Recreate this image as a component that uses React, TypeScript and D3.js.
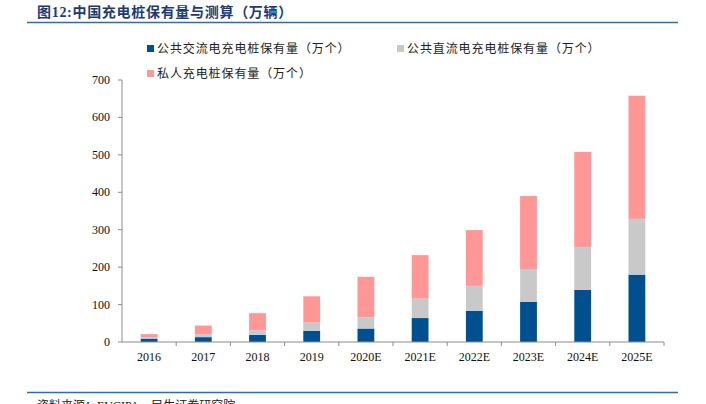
import React from 'react';
import * as d3 from 'd3';

const years = ['2016', '2017', '2018', '2019', '2020E', '2021E', '2022E', '2023E', '2024E', '2025E'];
const publicAC = [9, 13, 19, 30, 36, 64, 83, 107, 139, 180];
const publicDC = [4, 7, 12, 22, 30, 52, 67, 88, 115, 149];
const privatePiles = [8, 24, 46, 70, 108, 116, 149, 195, 254, 329];
const yTicks = [0, 100, 200, 300, 400, 500, 600, 700];

const seriesNames = ['公共交流电充电桩保有量（万个）', '公共直流电充电桩保有量（万个）', '私人充电桩保有量（万个）'];
const colors = ['#00508f', '#c9c9c9', '#ff9797'];

const W = 706;
const H = 404;
const left = 122;
const right = 664;
const top = 80;
const bottom = 342;

export default function App() {
  const x = d3.scaleBand<string>().domain(years).range([left, right]).paddingInner(0.69).paddingOuter(0.345);
  const y = d3.scaleLinear().domain([0, 700]).range([bottom, top]);

  const rows = years.map((yr, i) => ({ yr, a: publicAC[i], b: publicDC[i], c: privatePiles[i] }));
  const stacked = d3.stack<any>().keys(['a', 'b', 'c'])(rows);

  const serif = '"Times New Roman", "Liberation Serif", "Noto Sans CJK SC", serif';
  const cjk = '"Liberation Serif", "Noto Sans CJK SC", serif';
  const band = (right - left) / years.length;

  return (
    <svg width={W} height={H} style={{ position: 'absolute', left: 0, top: 0, background: '#fff' }}>
      {/* title */}
      <text x={37} y={17} fontSize={14} fontWeight="bold" fill="#1b3a78" fontFamily={cjk} letterSpacing={0.7}>
        图12:中国充电桩保有量与测算（万辆）
      </text>
      <line x1={27} x2={678} y1={22.5} y2={22.5} stroke="#2b6db5" strokeWidth={1.5} />

      {/* legend */}
      {seriesNames.map((name, i) => {
        const lx = i === 1 ? 397 : 147;
        const ly = i === 2 ? 74 : 49;
        return (
          <g key={name}>
            <rect x={lx} y={ly - 4} width={7} height={7} fill={colors[i]} />
            <text x={lx + 10} y={ly + 4} fontSize={12} fill="#222" fontFamily={cjk} letterSpacing={0.9}>{name}</text>
          </g>
        );
      })}

      {/* y axis */}
      <line x1={left} x2={left} y1={top} y2={bottom} stroke="#8c8c8c" />
      {yTicks.map(t => (
        <g key={t}>
          <line x1={left - 4} x2={left} y1={y(t)} y2={y(t)} stroke="#8c8c8c" />
          <text x={110} y={y(t) + 4} textAnchor="end" fontSize={12} fill="#111" fontFamily={serif}>{t}</text>
        </g>
      ))}

      {/* bars */}
      {stacked.map((s, si) => (
        <g key={si} fill={colors[si]}>
          {s.map((d, i) => (
            <rect key={i} x={x(years[i])} width={x.bandwidth()} y={y(d[1])} height={y(d[0]) - y(d[1])} />
          ))}
        </g>
      ))}

      {/* x axis */}
      <line x1={left} x2={right} y1={bottom} y2={bottom} stroke="#8c8c8c" />
      {years.map((yr, i) => (
        <g key={yr}>
          <line x1={left + band * (i + 1)} x2={left + band * (i + 1)} y1={bottom} y2={bottom + 4} stroke="#8c8c8c" />
          <text x={(x(yr) ?? 0) + x.bandwidth() / 2} y={361} textAnchor="middle" fontSize={12} fill="#111" fontFamily={serif}>{yr}</text>
        </g>
      ))}

      {/* source */}
      <line x1={27} x2={678} y1={392.5} y2={392.5} stroke="#2b6db5" strokeWidth={1.5} />
      <text x={37} y={410} fontSize={12} fill="#222" fontFamily={cjk}>资料来源：EVCIPA，民生证券研究院</text>
    </svg>
  );
}
